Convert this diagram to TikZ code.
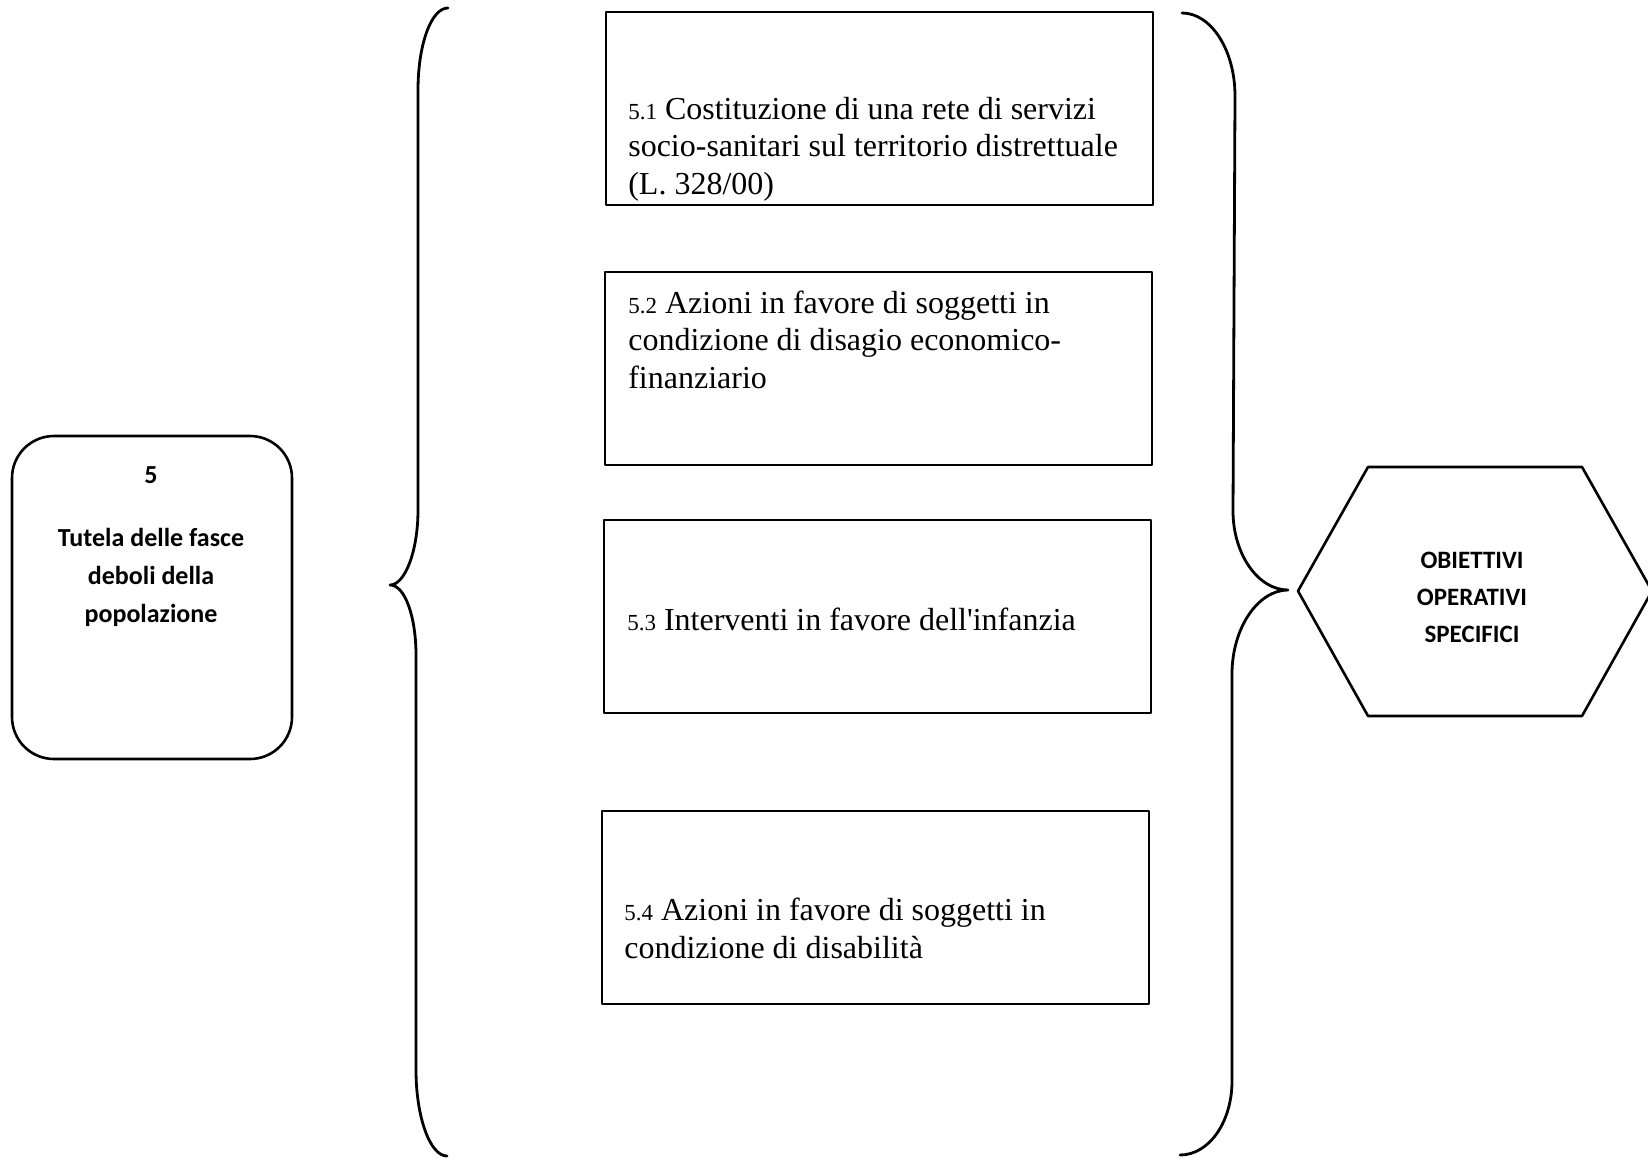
\documentclass[tikz,border=0pt]{standalone}
\usepackage{fontspec}
\setmainfont{Liberation Serif}[Ligatures=TeXOff]
\newfontfamily\calib{Carlito}
\begin{document}
\begin{tikzpicture}[x=1pt,y=-1pt,line width=2.6pt,line join=round,
  obox/.style={draw,rectangle,inner sep=0pt,minimum width=547pt,minimum height=193pt},
  otext/.style={inner sep=0pt,anchor=base west,align=left,font=\fontsize{32}{37.5}\selectfont},
  rbox/.style={draw,rectangle,rounded corners=42pt,inner sep=0pt,minimum width=280pt,minimum height=323pt},
  gtext/.style={inner sep=0pt,anchor=base,align=center,font=\calib\bfseries\fontsize{26}{38}\selectfont},
  htext/.style={inner sep=0pt,align=center,font=\calib\bfseries\fontsize{25}{37}\selectfont},
  brace/.style={draw,line width=2.8pt,line cap=round}]
\newcommand{\num}[1]{{\fontsize{23}{37}\selectfont #1}}
\useasboundingbox (0,0) rectangle (1648,1159);
\fill[white] (0,0) rectangle (1648,1159);

% left goal box (base anchor = baseline of last line)
\node[rbox] (goal) at (152,597.5) {};
\node[gtext] (goalt) at (151,622) {5\\[25pt]Tutela delle fasce\\deboli della\\popolazione};

% left brace
\path[brace] (448,8) .. controls (431,8) and (418,45) .. (418,90) -- (418,510)
  .. controls (418,551) and (405,585) .. (390,585)
  .. controls (405,585) and (416,617) .. (416,655) -- (416,1070)
  .. controls (416,1117) and (430,1156) .. (447,1156);

% objective boxes
\node[obox] (o1) at (879.5,108.5) {};
\node[otext] (t1) at (627,194) {\num{5.1} Costituzione di una rete di servizi\\socio-sanitari sul territorio distrettuale\\(L. 328/00)};
\node[obox] (o2) at (878.5,368.5) {};
\node[otext] (t2) at (627,388) {\num{5.2} Azioni in favore di soggetti in\\condizione di disagio economico-\\finanziario};
\node[obox] (o3) at (877.5,616.5) {};
\node[otext] (t3) at (626,630) {\num{5.3} Interventi in favore dell'infanzia};
\node[obox] (o4) at (875.5,907.5) {};
\node[otext] (t4) at (623,958) {\num{5.4} Azioni in favore di soggetti in\\condizione di disabilità};

% right brace
\path[brace] (1182,13) .. controls (1211,13) and (1235,50) .. (1235,96) -- (1233,511)
  .. controls (1233,554) and (1258,590) .. (1288,590)
  .. controls (1258,590) and (1232,628) .. (1232,674) -- (1232,1081)
  .. controls (1232,1122) and (1209,1155) .. (1180,1155);

% hexagon
\node[htext] (hex) at (1472,597) {OBIETTIVI\\OPERATIVI\\SPECIFICI};
\draw (1298,591) -- (1368,467) -- (1582,467) -- (1652,591) -- (1582,716) -- (1368,716) -- cycle;
\end{tikzpicture}
\end{document}
